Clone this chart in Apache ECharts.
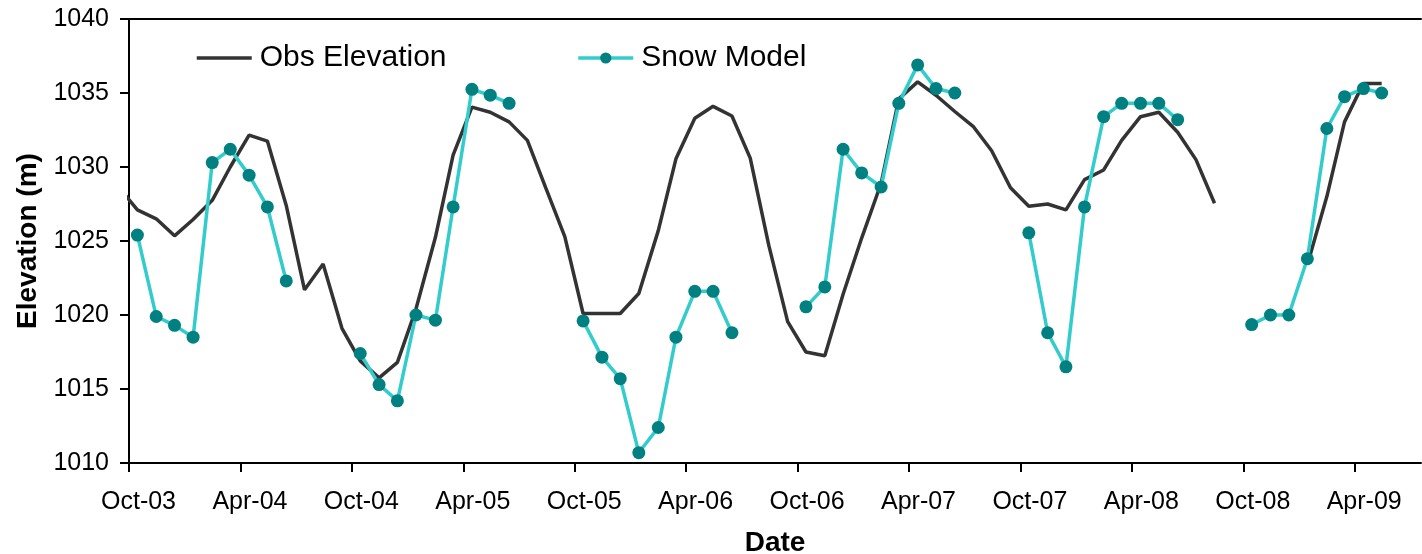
<!DOCTYPE html>
<html>
<head>
<meta charset="utf-8">
<script src="https://cdn.jsdelivr.net/npm/echarts@6/dist/echarts.min.js"></script>
<style>
  html, body { margin: 0; padding: 0; background: #ffffff; }
  #chart { width: 1422px; height: 554px; }
</style>
</head>
<body>
<div id="chart"></div>
<script>
// Monthly samples (taken mid-month), Sep 2003 - May 2009
const months = [
  '2003-09', '2003-10', '2003-11', '2003-12',
  '2004-01', '2004-02', '2004-03', '2004-04', '2004-05', '2004-06', '2004-07', '2004-08', '2004-09', '2004-10', '2004-11', '2004-12',
  '2005-01', '2005-02', '2005-03', '2005-04', '2005-05', '2005-06', '2005-07', '2005-08', '2005-09', '2005-10', '2005-11', '2005-12',
  '2006-01', '2006-02', '2006-03', '2006-04', '2006-05', '2006-06', '2006-07', '2006-08', '2006-09', '2006-10', '2006-11', '2006-12',
  '2007-01', '2007-02', '2007-03', '2007-04', '2007-05', '2007-06', '2007-07', '2007-08', '2007-09', '2007-10', '2007-11', '2007-12',
  '2008-01', '2008-02', '2008-03', '2008-04', '2008-05', '2008-06', '2008-07', '2008-08', '2008-09', '2008-10', '2008-11', '2008-12',
  '2009-01', '2009-02', '2009-03', '2009-04', '2009-05'
];

// Observed water-surface elevation (m)
const obsElevation = [
  1028.6, 1027.1, 1026.5, 1025.35,
  1026.45, 1027.75, 1030.0, 1032.15, 1031.75, 1027.4, 1021.7, 1023.45, 1019.1, 1016.9, 1015.75, 1016.8,
  1020.4, 1025.25, 1030.8, 1034.05, 1033.7, 1033.05, 1031.8, 1028.55, 1025.3, 1020.1, 1020.1, 1020.1,
  1021.45, 1025.7, 1030.55, 1033.3, 1034.1, 1033.45, 1030.6, 1024.7, 1019.55, 1017.5, 1017.25, 1021.4,
  1025.2, 1028.9, 1034.6, 1035.75, 1034.85, 1033.75, 1032.75, 1031.1, 1028.6, 1027.35, 1027.5, 1027.1,
  1029.15, 1029.8, 1031.8, 1033.4, 1033.7, 1032.35, 1030.5, 1027.55, null, null, null, null,
  1023.4, 1028.0, 1033.05, 1035.65, 1035.65
];

// Snow model elevation (m), Oct-Jun each season
const snowModel = [
  null, 1025.4, 1019.9, 1019.3,
  1018.5, 1030.3, 1031.2, 1029.45, 1027.3, 1022.3, null, null, null, 1017.4, 1015.3, 1014.2,
  1020.0, 1019.65, 1027.3, 1035.25, 1034.85, 1034.3, null, null, null, 1019.6, 1017.15, 1015.7,
  1010.7, 1012.4, 1018.5, 1021.6, 1021.6, 1018.8, null, null, null, 1020.55, 1021.9, 1031.2,
  1029.6, 1028.65, 1034.3, 1036.9, 1035.3, 1035.0, null, null, null, 1025.55, 1018.8, 1016.5,
  1027.3, 1033.4, 1034.3, 1034.3, 1034.3, 1033.2, null, null, null, 1019.35, 1020.0, 1020.0,
  1023.8, 1032.6, 1034.75, 1035.3, 1035.0
];

// Date-axis labels, one every six months from Oct 2003
const tickLabels = ['Oct-03', 'Apr-04', 'Oct-04', 'Apr-05', 'Oct-05', 'Apr-06',
                    'Oct-06', 'Apr-07', 'Oct-07', 'Apr-08', 'Oct-08', 'Apr-09'];

const FONT = "'Liberation Sans', Arial, Helvetica, sans-serif";

// Position of a mid-month sample in months since 1 Oct 2003
function monthPos(key) {
  const [y, m] = key.split('-').map(Number);
  const daysInMonth = new Date(y, m, 0).getDate();
  return (y - 2003) * 12 + (m - 10) + 14 / daysInMonth;
}
const toPoints = vals => months.map((k, i) => [monthPos(k), vals[i] == null ? '-' : vals[i]]);

const X_MAX = 69.57;

const chart = echarts.init(document.getElementById('chart'), null, { renderer: 'canvas' });
chart.setOption({
  animation: false,
  backgroundColor: '#ffffff',
  textStyle: { fontFamily: FONT },
  grid: { left: 129, right: 1, top: 19, bottom: 91, containLabel: false, outerBoundsMode: 'none' },
  legend: {
    left: 190,
    top: 38,
    itemWidth: 55,
    itemHeight: 14,
    itemGap: 130,
    lineStyle: { width: 3.5 },
    textStyle: { fontSize: 30, color: '#000000', fontFamily: FONT, padding: [0, 0, 0, 3] },
    data: [
      { name: 'Obs Elevation', itemStyle: { opacity: 0 }, lineStyle: { width: 3.5, color: '#333333' } },
      { name: 'Snow Model', lineStyle: { width: 3.5, color: '#33CCCC' } }
    ]
  },
  xAxis: [
    {
      type: 'value',
      min: 0,
      max: X_MAX,
      interval: 6,
      name: 'Date',
      nameLocation: 'middle',
      nameGap: 66,
      nameTextStyle: { fontSize: 28, fontWeight: 'bold', color: '#000000', fontFamily: FONT },
      axisLine: { show: true, onZero: false, lineStyle: { color: '#000000', width: 2 } },
      axisTick: { show: true, inside: false, length: 9, lineStyle: { color: '#000000', width: 2 } },
      axisLabel: {
        show: true,
        margin: 27,
        fontSize: 25,
        color: '#000000',
        fontFamily: FONT,
        padding: [0, 0, 0, 19],
        showMaxLabel: false,
        formatter: v => (Math.abs(v % 6) < 1e-6 ? (tickLabels[Math.round(v / 6)] || '') : '')
      },
      splitLine: { show: false }
    },
    {
      type: 'value',
      position: 'top',
      min: 0,
      max: X_MAX,
      axisLine: { show: true, onZero: false, lineStyle: { color: '#000000', width: 2 } },
      axisTick: { show: false },
      axisLabel: { show: false },
      splitLine: { show: false }
    }
  ],
  yAxis: {
    type: 'value',
    min: 1010,
    max: 1040,
    interval: 5,
    name: 'Elevation (m)',
    nameLocation: 'middle',
    nameGap: 84,
    nameTextStyle: { fontSize: 28, fontWeight: 'bold', color: '#000000', fontFamily: FONT },
    axisLine: { show: true, onZero: false, lineStyle: { color: '#000000', width: 2 } },
    axisTick: { show: true, inside: false, length: 9, lineStyle: { color: '#000000', width: 2 } },
    axisLabel: {
      margin: 20,
      fontSize: 25,
      color: '#000000',
      fontFamily: FONT,
      formatter: v => String(v)
    },
    splitLine: { show: false }
  },
  series: [
    {
      name: 'Obs Elevation',
      type: 'line',
      xAxisIndex: 0,
      data: toPoints(obsElevation),
      symbol: 'none',
      connectNulls: false,
      clip: true,
      lineStyle: { color: '#333333', width: 3.5 },
      itemStyle: { color: '#333333' },
      z: 2
    },
    {
      name: 'Snow Model',
      type: 'line',
      xAxisIndex: 0,
      data: toPoints(snowModel),
      symbol: 'circle',
      symbolSize: 13,
      showSymbol: true,
      connectNulls: false,
      clip: true,
      lineStyle: { color: '#33CCCC', width: 3.5 },
      itemStyle: { color: '#008080', borderWidth: 0 },
      z: 3
    }
  ]
});
</script>
</body>
</html>
